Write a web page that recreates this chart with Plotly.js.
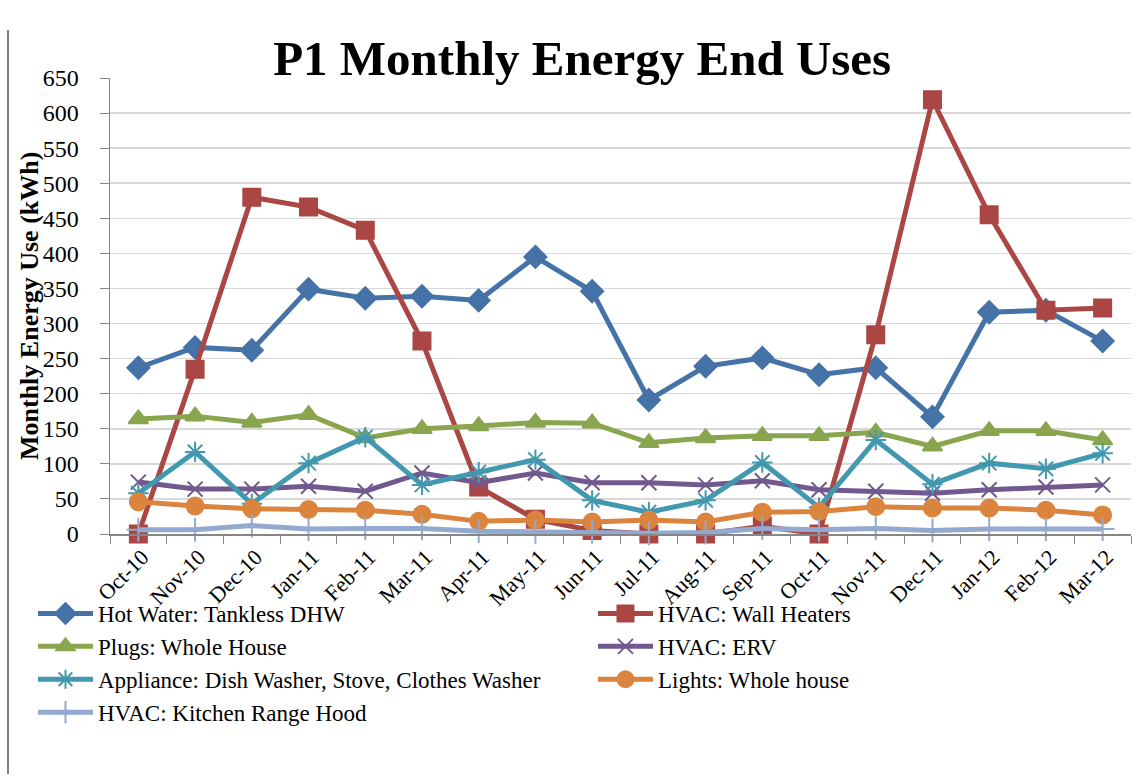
<!DOCTYPE html>
<html>
<head>
<meta charset="utf-8">
<script src="https://cdn.plot.ly/plotly-3.0.1.min.js"></script>
<style>html,body{margin:0;padding:0;background:#fff;}#chart{width:1146px;height:774px;}</style>
</head>
<body>
<div id="chart"></div>
<script>
const months = ["Oct-10","Nov-10","Dec-10","Jan-11","Feb-11","Mar-11","Apr-11","May-11","Jun-11","Jul-11","Aug-11","Sep-11","Oct-11","Nov-11","Dec-11","Jan-12","Feb-12","Mar-12"];
const hotWater   = [237,266,262,349,336,339,333,395,346,191,239,251,227,237,167,316,319,275];
const wallHeaters= [0,235,480,466,433,275,67,21,5,0,0,11,0,284,619,455,319,322];
const plugs      = [164,168,159,170,137,150,154,159,158,130,137,140,140,145,125,147,147,134];
const erv        = [74,64,64,68,61,87,73,87,73,73,70,76,63,61,58,63,67,70];
const appliance  = [58,117,43,101,138,70,88,106,48,31,48,102,38,134,71,101,93,115];
const lights     = [46,40,36,35,34,28,18,20,17,20,17,31,32,39,37,37,34,27];
const rangeHood  = [6,6,12,7,8,8,4,3,3,1,2,8,6,8,5,7,7,7];

const names = ["Hot Water: Tankless DHW","HVAC: Wall Heaters","Plugs: Whole House","HVAC: ERV","Appliance: Dish Washer, Stove, Clothes Washer","Lights: Whole house","HVAC: Kitchen Range Hood"];
const series = [hotWater, wallHeaters, plugs, erv, appliance, lights, rangeHood];
const colors = ["#4572A7","#AA4643","#89A54E","#71588F","#4198AF","#DB843D","#93A9CF"];
const symbols = ["diamond","square","triangle-up","x-thin-open","asterisk-open","circle","cross-thin-open"];
const sizes = [17,17,17,15,17,17,17];
const legendOf = ["legend","legend2","legend","legend2","legend","legend2","legend"];

const SERIF = "Liberation Serif, DejaVu Serif, serif";

const traces = series.map((s,i)=>({
  type:"scatter", mode:"lines+markers", x:months, y:s, name:names[i],
  legend:legendOf[i], legendgroup:"g"+i,
  line:{color:colors[i], width:5},
  marker:{symbol:symbols[i], size:sizes[i], color:colors[i], line:{color:colors[i], width:2}},
  cliponaxis:false
}));

const legendCommon = {orientation:"v", xref:"container", yref:"container", xanchor:"left", yanchor:"top",
  itemwidth:55, tracegroupgap:3, bgcolor:"rgba(0,0,0,0)", borderwidth:0,
  font:{family:SERIF, size:23, color:"#000"}, traceorder:"normal"};

const layout = {
  width:1146, height:774,
  margin:{l:110, r:15, t:78, b:240, autoexpand:false},
  paper_bgcolor:"#fff", plot_bgcolor:"#fff",
  title:{text:"<b>P1 Monthly Energy End Uses</b>", font:{family:SERIF, size:49, color:"#000"}, x:0.508, xanchor:"center", y:0.925, yanchor:"middle"},
  xaxis:{type:"category", range:[-0.5,17.5], tickangle:-45, tickson:"boundaries", ticks:"outside", ticklen:8, tickcolor:"#868686",
    ticklabelshift:4,
    showline:true, linecolor:"#868686", linewidth:1.5, showgrid:false, fixedrange:true,
    tickfont:{family:SERIF, size:22, color:"#000"}},
  yaxis:{range:[0,650], dtick:50, ticks:"outside", ticklen:9, tickcolor:"#868686", ticklabelstandoff:16,
    showline:true, linecolor:"#868686", linewidth:1.5, gridcolor:"#d9d9d9", gridwidth:1.5, zeroline:false,
    tickfont:{family:SERIF, size:24, color:"#000"}},
  annotations:[{text:"<b>Monthly Energy Use (kWh)</b>", xref:"paper", yref:"paper", x:(29-110)/1021, y:0.5,
    xanchor:"center", yanchor:"middle", textangle:-90, showarrow:false, font:{family:SERIF, size:26, color:"#000"}}],
  showlegend:true,
  legend:Object.assign({}, legendCommon, {x:33/1146, y:1-592/774}),
  legend2:Object.assign({}, legendCommon, {x:593/1146, y:1-592/774}),
  shapes:[{type:"line", xref:"paper", yref:"paper", x0:(8-110)/1021, x1:(8-110)/1021, y0:(534-30)/456, y1:(534-774)/456, line:{color:"#000", width:1}}]
};

Plotly.newPlot("chart", traces, layout, {displayModeBar:false, staticPlot:true});
</script>
</body>
</html>
